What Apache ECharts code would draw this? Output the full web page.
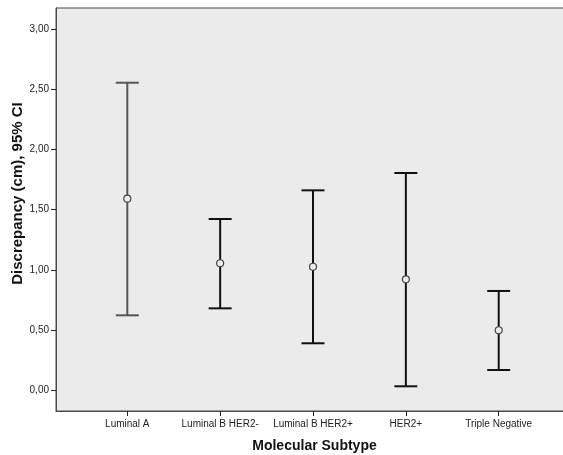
<!DOCTYPE html>
<html>
<head>
<meta charset="utf-8">
<script src="https://cdn.jsdelivr.net/npm/echarts@6/dist/echarts.min.js"></script>
<style>html,body{margin:0;padding:0;background:#fff;}#c{width:563px;height:455px;}</style>
</head>
<body>
<div id="c"></div>
<script>
var categories = ['Luminal A', 'Luminal B HER2-', 'Luminal B HER2+', 'HER2+', 'Triple Negative'];
var means = [1.592, 1.056, 1.027, 0.923, 0.500];
var upper = [2.554, 1.423, 1.661, 1.805, 0.826];
var lower = [0.624, 0.682, 0.392, 0.035, 0.170];
var yTicks = [0, 0.5, 1.0, 1.5, 2.0, 2.5, 3.0];
var yTickLabels = ['0,00', '0,50', '1,00', '1,50', '2,00', '2,50', '3,00'];

var chart = echarts.init(document.getElementById('c'), null, {renderer: 'canvas'});
var idx = categories.map(function (c, i) { return i; });
var barColors = ['#555555', '#111111', '#111111', '#111111', '#111111'];

var option = {
  animation: false,
  backgroundColor: '#ffffff',
  grid: {
    left: 56, top: 8, right: -2, bottom: 44,
    containLabel: false, outerBoundsMode: 'none',
    show: true, backgroundColor: '#ebebeb', borderColor: '#4a4a4a', borderWidth: 1
  },
  xAxis: {
    type: 'value', min: -0.768, max: 4.714,
    name: 'Molecular Subtype', nameLocation: 'middle', nameGap: 28, nameMoveOverlap: false,
    nameTextStyle: {fontFamily: 'Liberation Sans', fontWeight: 'bold', fontSize: 14, color: '#111', padding: [0, 0, 0, 8]},
    axisLine: {show: true, onZero: false, lineStyle: {color: '#4a4a4a', width: 1}},
    axisTick: {show: true, inside: false, length: 5, customValues: idx, lineStyle: {color: '#222'}},
    axisLabel: {
      customValues: idx, margin: 8, fontFamily: 'Liberation Sans', fontSize: 10, color: '#222',
      formatter: function (v) { return categories[Math.round(v)]; }
    },
    splitLine: {show: false}
  },
  yAxis: {
    type: 'value', min: -0.17, max: 3.174,
    name: 'Discrepancy (cm), 95% CI', nameLocation: 'middle', nameGap: 31, nameMoveOverlap: false,
    nameTextStyle: {fontFamily: 'Liberation Sans', fontWeight: 'bold', fontSize: 15, color: '#111', padding: [0, 0, 0, 32]},
    axisLine: {show: true, onZero: false, lineStyle: {color: '#4a4a4a', width: 1}},
    axisTick: {show: true, inside: false, length: 5, customValues: yTicks, lineStyle: {color: '#222'}},
    axisLabel: {
      customValues: yTicks, margin: 7, fontFamily: 'Liberation Sans', fontSize: 10, color: '#222',
      formatter: function (v) { return yTickLabels[yTicks.indexOf(Math.round(v * 100) / 100)]; }
    },
    splitLine: {show: false}
  },
  series: [
    {
      type: 'custom',
      data: idx.map(function (i) { return [i, lower[i], upper[i]]; }),
      renderItem: function (params, api) {
        var i = api.value(0);
        var lo = api.coord([i, api.value(1)]);
        var hi = api.coord([i, api.value(2)]);
        var hw = 11.5;
        var col = barColors[params.dataIndex];
        var style = {stroke: col, lineWidth: 2, fill: null};
        return {
          type: 'group',
          children: [
            {type: 'line', shape: {x1: lo[0], y1: lo[1], x2: hi[0], y2: hi[1]}, style: style},
            {type: 'line', shape: {x1: hi[0] - hw, y1: hi[1], x2: hi[0] + hw, y2: hi[1]}, style: style},
            {type: 'line', shape: {x1: lo[0] - hw, y1: lo[1], x2: lo[0] + hw, y2: lo[1]}, style: style}
          ]
        };
      },
      z: 2
    },
    {
      type: 'scatter',
      data: idx.map(function (i) { return [i, means[i]]; }),
      symbol: 'circle', symbolSize: 7,
      itemStyle: {color: '#ebebeb', borderColor: '#444', borderWidth: 1.2, opacity: 1},
      z: 3
    }
  ]
};
chart.setOption(option);
</script>
</body>
</html>
